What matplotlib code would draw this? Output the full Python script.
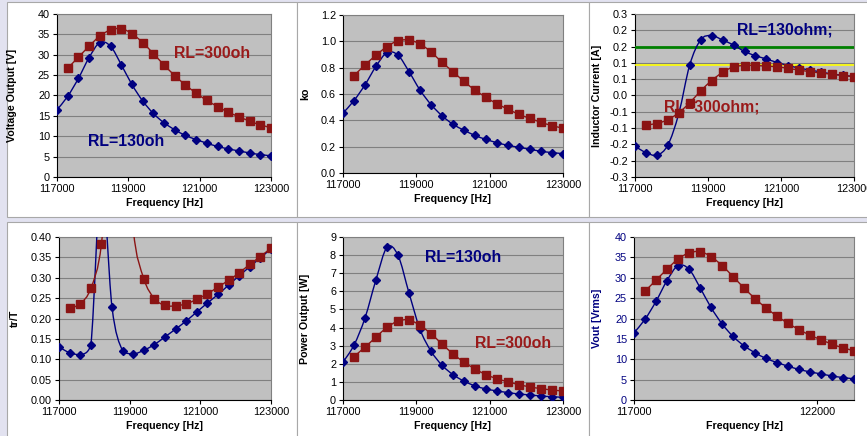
import matplotlib
matplotlib.use('Agg')
import matplotlib.pyplot as plt
from matplotlib.path import Path
from matplotlib.patches import PathPatch, Rectangle

plt.rcParams['font.family'] = ['Liberation Sans', 'DejaVu Sans']

W, H = 867, 436

# frequencies of the two load cases [Hz]
freq_130 = [117000, 117300, 117600, 117900, 118200, 118500, 118800, 119100, 119400, 119700, 120000,
            120300, 120600, 120900, 121200, 121500, 121800, 122100, 122400, 122700, 123000]
freq_300 = [117300, 117600, 117900, 118200, 118500, 118800, 119100, 119400, 119700, 120000,
            120300, 120600, 120900, 121200, 121500, 121800, 122100, 122400, 122700, 123000]

# voltage output [V] (also shown as Vout [Vrms])
vout_130 = [16.5, 19.8, 24.2, 29.3, 33.0, 32.1, 27.6, 22.7, 18.7, 15.6, 13.3,
            11.6, 10.2, 9.2, 8.3, 7.5, 6.9, 6.4, 5.9, 5.5, 5.2]
vout_300 = [26.7, 29.4, 32.1, 34.6, 36.1, 36.4, 35.2, 33.0, 30.3, 27.5,
            24.9, 22.6, 20.6, 18.8, 17.3, 15.9, 14.8, 13.7, 12.8, 12.1]

# ko
ko_130 = [0.455, 0.55, 0.67, 0.81, 0.915, 0.895, 0.77, 0.63, 0.52, 0.435, 0.37,
          0.325, 0.285, 0.255, 0.23, 0.21, 0.195, 0.18, 0.165, 0.155, 0.147]
ko_300 = [0.74, 0.82, 0.895, 0.96, 1.005, 1.01, 0.98, 0.92, 0.84, 0.77,
          0.695, 0.63, 0.575, 0.525, 0.485, 0.445, 0.415, 0.385, 0.36, 0.34]

# inductor current [A]
il_130 = [-0.156, -0.175, -0.183, -0.152, -0.055, 0.094, 0.171, 0.184, 0.170, 0.155, 0.135,
          0.122, 0.112, 0.101, 0.092, 0.084, 0.078, 0.072, 0.066, 0.062, 0.058]
il_300 = [-0.090, -0.086, -0.074, -0.053, -0.022, 0.014, 0.046, 0.071, 0.088, 0.092,
          0.092, 0.090, 0.088, 0.083, 0.078, 0.073, 0.069, 0.065, 0.061, 0.058]
il_green = 0.150
il_yellow = 0.094
il_ticks = [-0.25, -0.2, -0.15, -0.1, -0.05, 0.0, 0.05, 0.1, 0.15, 0.2, 0.25]
il_ticklabels = ['-0.3', '-0.2', '-0.2', '-0.1', '-0.1', '0.0', '0.1', '0.1', '0.2', '0.2', '0.3']

# tr/T
tr_130 = [0.130, 0.116, 0.111, 0.134, 0.55, 0.228, 0.121, 0.113, 0.122, 0.136, 0.155,
          0.174, 0.194, 0.216, 0.238, 0.259, 0.282, 0.305, 0.327, 0.349, 0.371]
tr_300 = [0.226, 0.236, 0.274, 0.382, 0.70, 0.80, 0.42, 0.298, 0.249, 0.232,
          0.231, 0.236, 0.247, 0.261, 0.277, 0.294, 0.312, 0.333, 0.352, 0.373]

# power output [W]
pout_130 = [2.09, 3.03, 4.53, 6.64, 8.43, 7.99, 5.91, 3.90, 2.70, 1.92, 1.40,
            1.04, 0.78, 0.61, 0.50, 0.41, 0.33, 0.28, 0.22, 0.18, 0.15]
pout_300 = [2.40, 2.92, 3.47, 4.01, 4.36, 4.42, 4.12, 3.66, 3.09, 2.55,
            2.09, 1.72, 1.40, 1.18, 1.00, 0.85, 0.72, 0.63, 0.55, 0.50]

xticks_main = [117000, 119000, 121000, 123000]
xticks_vout = [117000, 122000]

BLUE = '#000080'
RED = '#8b1414'
RED_TXT = '#9a1a1a'


def smooth_path(x, y, clamp=False):
    # excel style smoothed line (bezier through the points)
    verts = [(x[0], y[0])]
    codes = [Path.MOVETO]
    n = len(x)
    for i in range(n - 1):
        if i > 0:
            xa, ya = x[i - 1], y[i - 1]
        else:
            xa, ya = x[i], y[i]
        if i + 2 < n:
            xb, yb = x[i + 2], y[i + 2]
        else:
            xb, yb = x[i + 1], y[i + 1]
        c1y = y[i] + (y[i + 1] - ya) / 6.0
        c2y = y[i + 1] - (yb - y[i]) / 6.0
        if clamp:
            lo, hi = min(y[i], y[i + 1]), max(y[i], y[i + 1])
            c1y = min(max(c1y, lo), hi)
            c2y = min(max(c2y, lo), hi)
        c1 = (x[i] + (x[i + 1] - xa) / 6.0, c1y)
        c2 = (x[i + 1] - (xb - x[i]) / 6.0, c2y)
        verts += [c1, c2, (x[i + 1], y[i + 1])]
        codes += [Path.CURVE4] * 3
    return Path(verts, codes)


def series(ax, x, y, color, marker, ms, clamp=False):
    ax.add_patch(PathPatch(smooth_path(x, y, clamp), fill=False, edgecolor=color, lw=1.0, zorder=3))
    ax.plot(x, y, ls='none', marker=marker, color=color, ms=ms, mec=color, zorder=4)


def chart_box(fig, l, t, r, b):
    fig.add_artist(Rectangle((l / W, 1 - b / H), (r - l) / W, (b - t) / H, transform=fig.transFigure,
                             facecolor='white', edgecolor='#a8a8a8', lw=0.8, zorder=0))


def make_axes(fig, l, t, r, b, ylabel, ylab_x, ylim, yticks, xticks, xlim=(117000, 123000), label_color='black'):
    ax = fig.add_axes([l / W, 1 - b / H, (r - l) / W, (b - t) / H])
    ax.set_facecolor('#c0c0c0')
    ax.set_xlim(*xlim)
    ax.set_ylim(*ylim)
    ax.set_yticks(yticks)
    ax.set_xticks(xticks)
    ax.set_xticklabels([str(v) for v in xticks])
    ax.grid(axis='y', color='#808080', lw=0.8)
    ax.set_axisbelow(True)
    for s in ['top', 'right']:
        ax.spines[s].set_color('#808080')
        ax.spines[s].set_linewidth(0.8)
    for s in ['left', 'bottom']:
        ax.spines[s].set_color('black')
        ax.spines[s].set_linewidth(0.8)
    ax.tick_params(direction='out', length=3, width=0.8, labelsize=7.8, pad=2)
    ax.tick_params(axis='y', labelcolor=label_color)
    ax.set_xlabel('Frequency [Hz]', fontsize=7.7, fontweight='bold', labelpad=3)
    ax.set_ylabel(ylabel, fontsize=7.7, fontweight='bold', color=label_color)
    ax.yaxis.set_label_coords((ylab_x - l) / (r - l), 0.5)
    return ax


def label(ax, fig, x, y, s, color, z=5):
    ax.text(x / W, 1 - y / H, s, transform=fig.transFigure, ha='center', va='center',
            fontsize=11.4, fontweight='bold', color=color, zorder=z, clip_on=False)


fig = plt.figure(figsize=(W / 100, H / 100), dpi=100, facecolor='#e2e2f0')

for (l, t, r, b) in [(7, 2, 297, 217), (297, 2, 589, 217), (589, 2, 880, 217),
                     (7, 222, 297, 440), (297, 222, 589, 440), (589, 222, 880, 440)]:
    chart_box(fig, l, t, r, b)

# voltage output
ax1 = make_axes(fig, 57, 14, 271, 177, 'Voltage Output [V]', 17, (0, 40), range(0, 41, 5), xticks_main)
series(ax1, freq_130, vout_130, BLUE, 'D', 4.2)
series(ax1, freq_300, vout_300, RED, 's', 5.4)
label(ax1, fig, 212, 54, 'RL=300oh', RED_TXT)
label(ax1, fig, 126, 142, 'RL=130oh', BLUE)

# ko
ax2 = make_axes(fig, 343, 15, 563, 173, 'ko', 310, (0, 1.2), [0, 0.2, 0.4, 0.6, 0.8, 1.0, 1.2], xticks_main)
ax2.set_yticklabels(['%.1f' % v for v in [0, 0.2, 0.4, 0.6, 0.8, 1.0, 1.2]])
series(ax2, freq_130, ko_130, BLUE, 'D', 4.2)
series(ax2, freq_300, ko_300, RED, 's', 5.4)

# inductor current
ax3 = make_axes(fig, 635, 14, 854, 177, 'Inductor Current [A]', 602, (-0.25, 0.25), il_ticks, xticks_main)
ax3.set_yticklabels(il_ticklabels)
ax3.axhline(il_green, color='#008000', lw=2.0, zorder=2.6)
ax3.axhline(il_yellow, color='#ffff00', lw=1.2, zorder=2.6)
series(ax3, freq_130, il_130, BLUE, 'D', 4.2)
series(ax3, freq_300, il_300, RED, 's', 5.4)
label(ax3, fig, 785, 30, 'RL=130ohm;', BLUE)
label(ax3, fig, 712, 107, 'RL=300ohm;', RED_TXT, z=2.5)

# tr/T
ax4 = make_axes(fig, 59, 237, 271, 400, 'tr/T', 20, (0, 0.4), [0.05 * i for i in range(9)], xticks_main)
ax4.set_yticklabels(['%.2f' % (0.05 * i) for i in range(9)])
series(ax4, freq_130, tr_130, BLUE, 'D', 4.2, clamp=True)
series(ax4, freq_300, tr_300, RED, 's', 5.4)

# power output
ax5 = make_axes(fig, 343, 237, 563, 400, 'Power Output [W]', 310, (0, 9), range(0, 10), xticks_main)
series(ax5, freq_130, pout_130, BLUE, 'D', 4.2)
series(ax5, freq_300, pout_300, RED, 's', 5.4)
label(ax5, fig, 463, 257, 'RL=130oh', BLUE)
label(ax5, fig, 513, 343, 'RL=300oh', RED_TXT)

# vout rms
ax6 = make_axes(fig, 634, 237, 854, 400, 'Vout [Vrms]', 602, (0, 40), range(0, 41, 5), xticks_vout,
                label_color=BLUE)
series(ax6, freq_130, vout_130, BLUE, 'D', 4.2)
series(ax6, freq_300, vout_300, RED, 's', 5.4)

fig.savefig('out.png', dpi=100, facecolor=fig.get_facecolor())
